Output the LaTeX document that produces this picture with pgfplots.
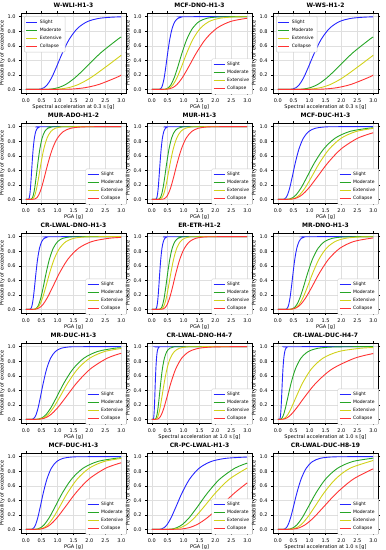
\documentclass[border=0pt]{standalone}
\usepackage{fontspec}
\setmainfont{DejaVu Sans}
\usepackage{pgfplots}
\pgfplotsset{compat=1.18}
\usepgfplotslibrary{groupplots}
\definecolor{cS}{rgb}{0.15,0.15,1}
\definecolor{cM}{rgb}{0.15,0.65,0.15}
\definecolor{cE}{rgb}{0.82,0.82,0.1}
\definecolor{cC}{rgb}{1,0.2,0.2}
\pgfplotsset{
 frag/.style={scale only axis, width=105pt, height=80pt,
  xmin=-0.15,xmax=3.15,ymin=-0.05,ymax=1.05,
  xtick={0,0.5,1,1.5,2,2.5,3}, ytick={0,0.2,0.4,0.6,0.8,1},
  /pgf/number format/assume math mode=true,
  xticklabel style={/pgf/number format/.cd,fixed,fixed zerofill,precision=1},
  yticklabel style={/pgf/number format/.cd,fixed,fixed zerofill,precision=1},
  tick label style={font=\fontsize{5}{6}\selectfont},
  label style={font=\fontsize{5}{6}\selectfont},
  title style={font=\bfseries\fontsize{6}{7}\selectfont, yshift=-4pt},
  grid=major, grid style={gray!25,line width=0.4pt},
  tick align=outside, major tick length=2pt, tick style={black, line width=0.4pt},
  axis line style={line width=0.5pt},
  ylabel={Probability of exceedance},
  xlabel style={yshift=4pt}, ylabel style={yshift=-4pt},
  legend style={font=\fontsize{4.5}{5}\selectfont, draw=gray!40, rounded corners=1pt, row sep=-1pt, inner sep=1.5pt},
  legend cell align=left,
 },
 lgSE/.style={legend style={at={(0.615,0.43)},anchor=north west}},
 lgNW/.style={legend style={at={(0.03,0.96)},anchor=north west}},
 sS/.style={draw=cS, color=cS, line width=0.9pt, smooth, no markers,
   legend image code/.code={\draw[draw=cS,line width=0.9pt] (0pt,0pt) -- (11pt,0pt);}},
 sM/.style={draw=cM, color=cM, line width=0.9pt, smooth, no markers,
   legend image code/.code={\draw[draw=cM,line width=0.9pt] (0pt,0pt) -- (11pt,0pt);}},
 sE/.style={draw=cE, color=cE, line width=0.9pt, smooth, no markers,
   legend image code/.code={\draw[draw=cE,line width=0.9pt] (0pt,0pt) -- (11pt,0pt);}},
 sC/.style={draw=cC, color=cC, line width=0.9pt, smooth, no markers,
   legend image code/.code={\draw[draw=cC,line width=0.9pt] (0pt,0pt) -- (11pt,0pt);}},
}
\begin{document}
\begin{tikzpicture}
\begin{groupplot}[group style={group size=3 by 5, horizontal sep=21pt, vertical sep=30pt}, frag]
% ---------- 1
\nextgroupplot[title={W-WLI-H1-3}, xlabel={Spectral acceleration at 0.3 s [g]}, lgNW]
\addplot[sS] coordinates {(0,0)(0.403,0.0013)(0.480,0.0062)(0.572,0.0228)(0.681,0.0668)(0.811,0.1587)(0.965,0.3085)(1.15,0.5)(1.370,0.6915)(1.632,0.8413)(1.944,0.9332)(2.316,0.9772)(2.759,0.9938)(3,0.9969)};
\addplot[sM] coordinates {(0,0)(0.667,0.0013)(0.823,0.0062)(1.015,0.0228)(1.253,0.0668)(1.544,0.1587)(1.906,0.3085)(2.35,0.5)(2.900,0.6915)(3,0.719)};
\addplot[sE] coordinates {(0,0)(0.880,0.0013)(1.085,0.0062)(1.339,0.0228)(1.652,0.0668)(2.037,0.1587)(2.514,0.3085)(3,0.469)};
\addplot[sC] coordinates {(0,0)(1.221,0.0013)(1.505,0.0062)(1.858,0.0228)(2.292,0.0668)(2.825,0.1587)(3,0.196)};
\legend{Slight,Moderate,Extensive,Collapse}
% ---------- 2
\nextgroupplot[title={MCF-DNO-H1-3}, xlabel={PGA [g]}, lgSE]
\addplot[sS] coordinates {(0,0)(0.236,0.0013)(0.268,0.0062)(0.304,0.0228)(0.344,0.0668)(0.390,0.1587)(0.441,0.3085)(0.5,0.5)(0.567,0.6915)(0.642,0.8413)(0.728,0.9332)(0.825,0.9772)(0.934,0.9938)(1.059,0.9987)(3,1)};
\addplot[sM] coordinates {(0,0)(0.387,0.0013)(0.448,0.0062)(0.522,0.0228)(0.606,0.0668)(0.704,0.1587)(0.818,0.3085)(0.95,0.5)(1.104,0.6915)(1.283,0.8413)(1.490,0.9332)(1.731,0.9772)(2.011,0.9938)(2.337,0.9987)(3,1)};
\addplot[sE] coordinates {(0,0)(0.409,0.0013)(0.482,0.0062)(0.569,0.0228)(0.671,0.0668)(0.791,0.1587)(0.933,0.3085)(1.1,0.5)(1.297,0.6915)(1.530,0.8413)(1.804,0.9332)(2.129,0.9772)(2.510,0.9938)(3,0.9988)};
\addplot[sC] coordinates {(0,0)(0.448,0.0013)(0.542,0.0062)(0.655,0.0228)(0.792,0.0668)(0.958,0.1587)(1.158,0.3085)(1.4,0.5)(1.693,0.6915)(2.047,0.8413)(2.475,0.9332)(3,0.978)};
\legend{Slight,Moderate,Extensive,Collapse}
% ---------- 3
\nextgroupplot[title={W-WS-H1-2}, xlabel={Spectral acceleration at 0.3 s [g]}, lgNW]
\addplot[sS] coordinates {(0,0)(0.403,0.0013)(0.480,0.0062)(0.572,0.0228)(0.681,0.0668)(0.811,0.1587)(0.965,0.3085)(1.15,0.5)(1.370,0.6915)(1.632,0.8413)(1.944,0.9332)(2.316,0.9772)(2.759,0.9938)(3,0.9969)};
\addplot[sM] coordinates {(0,0)(0.667,0.0013)(0.823,0.0062)(1.015,0.0228)(1.253,0.0668)(1.544,0.1587)(1.906,0.3085)(2.35,0.5)(2.900,0.6915)(3,0.719)};
\addplot[sE] coordinates {(0,0)(0.880,0.0013)(1.085,0.0062)(1.339,0.0228)(1.652,0.0668)(2.037,0.1587)(2.514,0.3085)(3,0.469)};
\addplot[sC] coordinates {(0,0)(1.221,0.0013)(1.505,0.0062)(1.858,0.0228)(2.292,0.0668)(2.825,0.1587)(3,0.196)};
\legend{Slight,Moderate,Extensive,Collapse}
% ---------- 4
\nextgroupplot[title={MUR-ADO-H1-2}, xlabel={PGA [g]}, lgSE]
\addplot[sS] coordinates {(0,0)(0.081,0.0013)(0.094,0.0062)(0.110,0.0228)(0.128,0.0668)(0.148,0.1587)(0.172,0.3085)(0.2,0.5)(0.232,0.6915)(0.270,0.8413)(0.314,0.9332)(0.364,0.9772)(0.423,0.9938)(0.492,0.9987)(3,1)};
\addplot[sM] coordinates {(0,0)(0.155,0.0013)(0.179,0.0062)(0.209,0.0228)(0.242,0.0668)(0.282,0.1587)(0.327,0.3085)(0.38,0.5)(0.442,0.6915)(0.513,0.8413)(0.596,0.9332)(0.692,0.9772)(0.804,0.9938)(0.935,0.9987)(3,1)};
\addplot[sE] coordinates {(0,0)(0.179,0.0013)(0.210,0.0062)(0.248,0.0228)(0.293,0.0668)(0.345,0.1587)(0.407,0.3085)(0.48,0.5)(0.566,0.6915)(0.668,0.8413)(0.787,0.9332)(0.929,0.9772)(1.095,0.9938)(1.292,0.9987)(3,1)};
\addplot[sC] coordinates {(0,0)(0.245,0.0013)(0.292,0.0062)(0.348,0.0228)(0.414,0.0668)(0.494,0.1587)(0.587,0.3085)(0.7,0.5)(0.834,0.6915)(0.993,0.8413)(1.183,0.9332)(1.410,0.9772)(1.679,0.9938)(2.001,0.9987)(3,1)};
\legend{Slight,Moderate,Extensive,Collapse}
% ---------- 5
\nextgroupplot[title={MUR-H1-3}, xlabel={PGA [g]}, lgSE]
\addplot[sS] coordinates {(0,0)(0.123,0.0013)(0.139,0.0062)(0.158,0.0228)(0.179,0.0668)(0.203,0.1587)(0.229,0.3085)(0.26,0.5)(0.295,0.6915)(0.334,0.8413)(0.378,0.9332)(0.429,0.9772)(0.486,0.9938)(0.550,0.9987)(3,1)};
\addplot[sM] coordinates {(0,0)(0.203,0.0013)(0.234,0.0062)(0.268,0.0228)(0.309,0.0668)(0.355,0.1587)(0.408,0.3085)(0.47,0.5)(0.541,0.6915)(0.622,0.8413)(0.715,0.9332)(0.823,0.9772)(0.947,0.9938)(1.089,0.9987)(3,1)};
\addplot[sE] coordinates {(0,0)(0.236,0.0013)(0.274,0.0062)(0.318,0.0228)(0.370,0.0668)(0.430,0.1587)(0.499,0.3085)(0.58,0.5)(0.674,0.6915)(0.783,0.8413)(0.909,0.9332)(1.057,0.9772)(1.228,0.9938)(1.427,0.9987)(3,1)};
\addplot[sC] coordinates {(0,0)(0.326,0.0013)(0.378,0.0062)(0.439,0.0228)(0.510,0.0668)(0.593,0.1587)(0.689,0.3085)(0.8,0.5)(0.930,0.6915)(1.080,0.8413)(1.254,0.9332)(1.458,0.9772)(1.694,0.9938)(1.968,0.9987)(3,1)};
\legend{Slight,Moderate,Extensive,Collapse}
% ---------- 6
\nextgroupplot[title={MCF-DUC-H1-3}, xlabel={PGA [g]}, lgSE]
\addplot[sS] coordinates {(0,0)(0.176,0.0013)(0.213,0.0062)(0.257,0.0228)(0.311,0.0668)(0.376,0.1587)(0.455,0.3085)(0.55,0.5)(0.665,0.6915)(0.804,0.8413)(0.972,0.9332)(1.176,0.9772)(1.422,0.9938)(1.720,0.9987)(3,1)};
\addplot[sM] coordinates {(0,0)(0.298,0.0013)(0.374,0.0062)(0.468,0.0228)(0.585,0.0668)(0.734,0.1587)(0.919,0.3085)(1.15,0.5)(1.440,0.6915)(1.803,0.8413)(2.259,0.9332)(2.829,0.9772)(3,0.983)};
\addplot[sE] coordinates {(0,0)(0.372,0.0013)(0.459,0.0062)(0.566,0.0228)(0.698,0.0668)(0.861,0.1587)(1.062,0.3085)(1.31,0.5)(1.617,0.6915)(1.994,0.8413)(2.460,0.9332)(3,0.9757)};
\addplot[sC] coordinates {(0,0)(0.383,0.0013)(0.485,0.0062)(0.614,0.0228)(0.776,0.0668)(0.981,0.1587)(1.242,0.3085)(1.57,0.5)(1.986,0.6915)(2.512,0.8413)(3,0.916)};
\legend{Slight,Moderate,Extensive,Collapse}
% ---------- 7
\nextgroupplot[title={CR-LWAL-DNO-H1-3}, xlabel={PGA [g]}, lgSE]
\addplot[sS] coordinates {(0,0)(0.130,0.0013)(0.151,0.0062)(0.176,0.0228)(0.204,0.0668)(0.237,0.1587)(0.276,0.3085)(0.32,0.5)(0.372,0.6915)(0.432,0.8413)(0.502,0.9332)(0.583,0.9772)(0.677,0.9938)(0.787,0.9987)(3,1)};
\addplot[sM] coordinates {(0,0)(0.260,0.0013)(0.302,0.0062)(0.351,0.0228)(0.408,0.0668)(0.474,0.1587)(0.551,0.3085)(0.64,0.5)(0.744,0.6915)(0.864,0.8413)(1.004,0.9332)(1.166,0.9772)(1.355,0.9938)(1.574,0.9987)(3,1)};
\addplot[sE] coordinates {(0,0)(0.263,0.0013)(0.313,0.0062)(0.373,0.0228)(0.444,0.0668)(0.529,0.1587)(0.629,0.3085)(0.75,0.5)(0.893,0.6915)(1.064,0.8413)(1.268,0.9332)(1.511,0.9772)(1.799,0.9938)(2.144,0.9987)(3,1)};
\addplot[sC] coordinates {(0,0)(0.275,0.0013)(0.345,0.0062)(0.431,0.0228)(0.540,0.0668)(0.676,0.1587)(0.847,0.3085)(1.06,0.5)(1.327,0.6915)(1.662,0.8413)(2.082,0.9332)(2.608,0.9772)(3,0.9896)};
\legend{Slight,Moderate,Extensive,Collapse}
% ---------- 8
\nextgroupplot[title={ER-ETR-H1-2}, xlabel={PGA [g]}, lgSE]
\addplot[sS] coordinates {(0,0)(0.118,0.0013)(0.134,0.0062)(0.152,0.0228)(0.172,0.0668)(0.195,0.1587)(0.221,0.3085)(0.25,0.5)(0.283,0.6915)(0.321,0.8413)(0.364,0.9332)(0.412,0.9772)(0.467,0.9938)(0.529,0.9987)(3,1)};
\addplot[sM] coordinates {(0,0)(0.236,0.0013)(0.268,0.0062)(0.304,0.0228)(0.344,0.0668)(0.390,0.1587)(0.441,0.3085)(0.5,0.5)(0.567,0.6915)(0.642,0.8413)(0.728,0.9332)(0.825,0.9772)(0.934,0.9938)(1.059,0.9987)(3,1)};
\addplot[sE] coordinates {(0,0)(0.267,0.0013)(0.305,0.0062)(0.350,0.0228)(0.400,0.0668)(0.458,0.1587)(0.524,0.3085)(0.6,0.5)(0.687,0.6915)(0.786,0.8413)(0.899,0.9332)(1.030,0.9772)(1.178,0.9938)(1.349,0.9987)(3,1)};
\addplot[sC] coordinates {(0,0)(0.309,0.0013)(0.359,0.0062)(0.417,0.0228)(0.485,0.0668)(0.563,0.1587)(0.654,0.3085)(0.76,0.5)(0.883,0.6915)(1.026,0.8413)(1.192,0.9332)(1.385,0.9772)(1.609,0.9938)(1.870,0.9987)(3,1)};
\legend{Slight,Moderate,Extensive,Collapse}
% ---------- 9
\nextgroupplot[title={MR-DNO-H1-3}, xlabel={PGA [g]}, lgSE]
\addplot[sS] coordinates {(0,0)(0.248,0.0013)(0.277,0.0062)(0.309,0.0228)(0.345,0.0668)(0.385,0.1587)(0.430,0.3085)(0.48,0.5)(0.536,0.6915)(0.598,0.8413)(0.668,0.9332)(0.745,0.9772)(0.832,0.9938)(0.929,0.9987)(3,1)};
\addplot[sM] coordinates {(0,0)(0.383,0.0013)(0.444,0.0062)(0.516,0.0228)(0.600,0.0668)(0.697,0.1587)(0.809,0.3085)(0.94,0.5)(1.092,0.6915)(1.269,0.8413)(1.474,0.9332)(1.713,0.9772)(1.990,0.9938)(2.312,0.9987)(3,1)};
\addplot[sE] coordinates {(0,0)(0.409,0.0013)(0.482,0.0062)(0.569,0.0228)(0.671,0.0668)(0.791,0.1587)(0.933,0.3085)(1.1,0.5)(1.297,0.6915)(1.530,0.8413)(1.804,0.9332)(2.129,0.9772)(2.510,0.9938)(3,0.9988)};
\addplot[sC] coordinates {(0,0)(0.394,0.0013)(0.482,0.0062)(0.588,0.0228)(0.719,0.0668)(0.878,0.1587)(1.073,0.3085)(1.31,0.5)(1.600,0.6915)(1.955,0.8413)(2.387,0.9332)(2.916,0.9772)(3,0.981)};
\legend{Slight,Moderate,Extensive,Collapse}
% ---------- 10
\nextgroupplot[title={MR-DUC-H1-3}, xlabel={PGA [g]}, lgSE]
\addplot[sS] coordinates {(0,0)(0.193,0.0013)(0.229,0.0062)(0.273,0.0228)(0.326,0.0668)(0.388,0.1587)(0.461,0.3085)(0.55,0.5)(0.655,0.6915)(0.780,0.8413)(0.930,0.9332)(1.108,0.9772)(1.319,0.9938)(1.572,0.9987)(3,1)};
\addplot[sM] coordinates {(0,0)(0.341,0.0013)(0.420,0.0062)(0.518,0.0228)(0.640,0.0668)(0.788,0.1587)(0.973,0.3085)(1.2,0.5)(1.481,0.6915)(1.826,0.8413)(2.254,0.9332)(2.779,0.9772)(3,0.9854)};
\addplot[sE] coordinates {(0,0)(0.375,0.0013)(0.462,0.0062)(0.570,0.0228)(0.704,0.0668)(0.867,0.1587)(1.071,0.3085)(1.32,0.5)(1.629,0.6915)(2.009,0.8413)(2.479,0.9332)(3,0.9747)};
\addplot[sC] coordinates {(0,0)(0.390,0.0013)(0.494,0.0062)(0.626,0.0228)(0.790,0.0668)(1.000,0.1587)(1.266,0.3085)(1.6,0.5)(2.024,0.6915)(2.560,0.8413)(3,0.909)};
\legend{Slight,Moderate,Extensive,Collapse}
% ---------- 11
\nextgroupplot[title={CR-LWAL-DNO-H4-7}, xlabel={Spectral acceleration at 1.0 s [g]}, lgSE]
\addplot[sS] coordinates {(0,0)(0.045,0.0013)(0.052,0.0062)(0.060,0.0228)(0.070,0.0668)(0.082,0.1587)(0.095,0.3085)(0.11,0.5)(0.128,0.6915)(0.149,0.8413)(0.172,0.9332)(0.200,0.9772)(0.233,0.9938)(0.271,0.9987)(3,1)};
\addplot[sM] coordinates {(0,0)(0.098,0.0013)(0.117,0.0062)(0.139,0.0228)(0.166,0.0668)(0.197,0.1587)(0.235,0.3085)(0.28,0.5)(0.333,0.6915)(0.397,0.8413)(0.473,0.9332)(0.564,0.9772)(0.672,0.9938)(0.800,0.9987)(3,1)};
\addplot[sE] coordinates {(0,0)(0.117,0.0013)(0.144,0.0062)(0.175,0.0228)(0.214,0.0668)(0.261,0.1587)(0.319,0.3085)(0.39,0.5)(0.476,0.6915)(0.582,0.8413)(0.711,0.9332)(0.868,0.9772)(1.060,0.9938)(1.295,0.9987)(3,1)};
\addplot[sC] coordinates {(0,0)(0.155,0.0013)(0.195,0.0062)(0.244,0.0228)(0.305,0.0668)(0.383,0.1587)(0.479,0.3085)(0.6,0.5)(0.751,0.6915)(0.941,0.8413)(1.178,0.9332)(1.476,0.9772)(1.848,0.9938)(2.314,0.9987)(3,1)};
\legend{Slight,Moderate,Extensive,Collapse}
% ---------- 12
\nextgroupplot[title={CR-LWAL-DUC-H4-7}, xlabel={Spectral acceleration at 1.0 s [g]}, lgSE]
\addplot[sS] coordinates {(0,0)(0.057,0.0013)(0.066,0.0062)(0.077,0.0228)(0.089,0.0668)(0.104,0.1587)(0.121,0.3085)(0.14,0.5)(0.163,0.6915)(0.189,0.8413)(0.220,0.9332)(0.255,0.9772)(0.296,0.9938)(0.344,0.9987)(3,1)};
\addplot[sM] coordinates {(0,0)(0.081,0.0013)(0.106,0.0062)(0.140,0.0228)(0.184,0.0668)(0.242,0.1587)(0.319,0.3085)(0.42,0.5)(0.553,0.6915)(0.728,0.8413)(0.958,0.9332)(1.262,0.9772)(1.662,0.9938)(2.187,0.9987)(3,0.9998)};
\addplot[sE] coordinates {(0,0)(0.129,0.0013)(0.174,0.0062)(0.235,0.0228)(0.317,0.0668)(0.428,0.1587)(0.578,0.3085)(0.78,0.5)(1.053,0.6915)(1.421,0.8413)(1.919,0.9332)(2.590,0.9772)(3,0.9876)};
\addplot[sC] coordinates {(0,0)(0.146,0.0013)(0.209,0.0062)(0.296,0.0228)(0.420,0.0668)(0.596,0.1587)(0.846,0.3085)(1.2,0.5)(1.703,0.6915)(2.417,0.8413)(3,0.905)};
\legend{Slight,Moderate,Extensive,Collapse}
% ---------- 13
\nextgroupplot[title={MCF-DUC-H1-3}, xlabel={PGA [g]}, lgSE]
\addplot[sS] coordinates {(0,0)(0.176,0.0013)(0.213,0.0062)(0.257,0.0228)(0.311,0.0668)(0.376,0.1587)(0.455,0.3085)(0.55,0.5)(0.665,0.6915)(0.804,0.8413)(0.972,0.9332)(1.176,0.9772)(1.422,0.9938)(1.720,0.9987)(3,1)};
\addplot[sM] coordinates {(0,0)(0.298,0.0013)(0.374,0.0062)(0.468,0.0228)(0.585,0.0668)(0.734,0.1587)(0.919,0.3085)(1.15,0.5)(1.440,0.6915)(1.803,0.8413)(2.259,0.9332)(2.829,0.9772)(3,0.983)};
\addplot[sE] coordinates {(0,0)(0.372,0.0013)(0.459,0.0062)(0.566,0.0228)(0.698,0.0668)(0.861,0.1587)(1.062,0.3085)(1.31,0.5)(1.617,0.6915)(1.994,0.8413)(2.460,0.9332)(3,0.9757)};
\addplot[sC] coordinates {(0,0)(0.383,0.0013)(0.485,0.0062)(0.614,0.0228)(0.776,0.0668)(0.981,0.1587)(1.242,0.3085)(1.57,0.5)(1.986,0.6915)(2.512,0.8413)(3,0.916)};
\legend{Slight,Moderate,Extensive,Collapse}
% ---------- 14
\nextgroupplot[title={CR-PC-LWAL-H1-3}, xlabel={PGA [g]}, lgSE]
\addplot[sS] coordinates {(0,0)(0.246,0.0013)(0.309,0.0062)(0.387,0.0228)(0.484,0.0668)(0.606,0.1587)(0.759,0.3085)(0.95,0.5)(1.189,0.6915)(1.490,0.8413)(1.866,0.9332)(2.337,0.9772)(3,0.9947)};
\addplot[sM] coordinates {(0,0)(0.527,0.0013)(0.644,0.0062)(0.786,0.0228)(0.961,0.0668)(1.173,0.1587)(1.433,0.3085)(1.75,0.5)(2.137,0.6915)(2.611,0.8413)(3,0.911)};
\addplot[sE] coordinates {(0,0)(0.602,0.0013)(0.736,0.0062)(0.898,0.0228)(1.098,0.0668)(1.340,0.1587)(1.638,0.3085)(2.0,0.5)(2.442,0.6915)(3,0.844)};
\addplot[sC] coordinates {(0,0)(0.783,0.0013)(0.957,0.0062)(1.167,0.0228)(1.427,0.0668)(1.742,0.1587)(2.129,0.3085)(2.6,0.5)(3,0.64)};
\legend{Slight,Moderate,Extensive,Collapse}
% ---------- 15
\nextgroupplot[title={CR-LWAL-DUC-H8-19}, xlabel={Spectral acceleration at 1.0 s [g]}, lgSE]
\addplot[sS] coordinates {(0,0)(0.181,0.0013)(0.221,0.0062)(0.269,0.0228)(0.329,0.0668)(0.402,0.1587)(0.491,0.3085)(0.6,0.5)(0.733,0.6915)(0.895,0.8413)(1.093,0.9332)(1.336,0.9772)(1.631,0.9938)(1.992,0.9987)(3,1)};
\addplot[sM] coordinates {(0,0)(0.311,0.0013)(0.390,0.0062)(0.488,0.0228)(0.611,0.0668)(0.766,0.1587)(0.959,0.3085)(1.2,0.5)(1.502,0.6915)(1.882,0.8413)(2.357,0.9332)(3,0.979)};
\addplot[sE] coordinates {(0,0)(0.376,0.0013)(0.471,0.0062)(0.590,0.0228)(0.738,0.0668)(0.925,0.1587)(1.159,0.3085)(1.45,0.5)(1.815,0.6915)(2.274,0.8413)(3,0.947)};
\addplot[sC] coordinates {(0,0)(0.413,0.0013)(0.531,0.0062)(0.681,0.0228)(0.873,0.0668)(1.123,0.1587)(1.441,0.3085)(1.85,0.5)(2.375,0.6915)(3,0.833)};
\legend{Slight,Moderate,Extensive,Collapse}
\end{groupplot}
\pgfresetboundingbox
\path ([xshift=-21pt,yshift=13pt]group c1r1.north west) rectangle ([xshift=7pt,yshift=-17pt]group c3r5.south east);
\end{tikzpicture}
\end{document}
